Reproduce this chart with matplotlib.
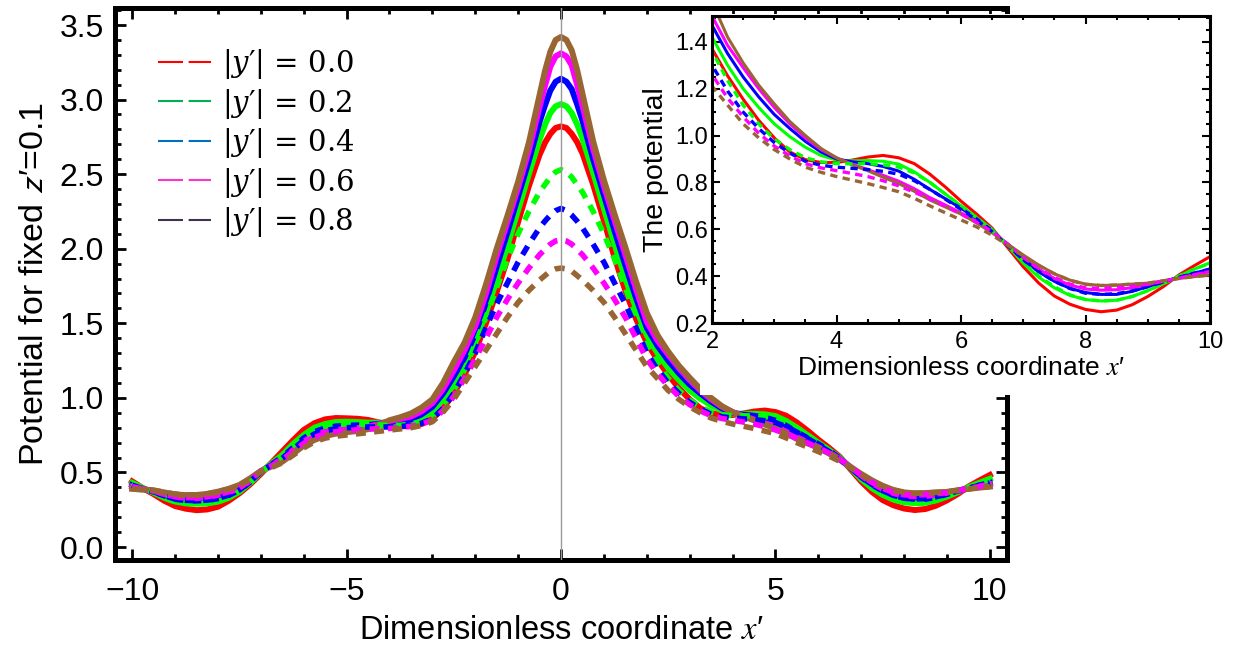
import matplotlib
matplotlib.use("Agg")
import matplotlib.pyplot as plt
from matplotlib.lines import Line2D
from matplotlib.patches import Rectangle
from matplotlib.ticker import MultipleLocator

plt.rcParams['font.family'] = ['Liberation Sans', 'DejaVu Sans']

x = [-10, -9.75, -9.5, -9.25, -9, -8.75, -8.5, -8.25, -8, -7.75, -7.5, -7.25, -7, -6.75, -6.5, -6.25,
     -6, -5.75, -5.5, -5.25, -5, -4.75, -4.5, -4.25, -4, -3.75, -3.5, -3.25, -3, -2.75, -2.5, -2.25,
     -2, -1.75, -1.5, -1.25, -1, -0.75, -0.5, -0.375, -0.25, -0.125, 0, 0.125, 0.25, 0.375, 0.5,
     0.75, 1, 1.25, 1.5, 1.75, 2,
     2.25, 2.5, 2.75, 3, 3.25, 3.5, 3.75, 4, 4.25, 4.5, 4.75, 5, 5.25, 5.5, 5.75, 6,
     6.25, 6.5, 6.75, 7, 7.25, 7.5, 7.75, 8, 8.25, 8.5, 8.75, 9, 9.25, 9.5, 9.75, 10]

# solid curves
red_solid = [0.44, 0.395, 0.355, 0.31, 0.275, 0.257, 0.247, 0.252, 0.27, 0.31, 0.36, 0.42, 0.49, 0.565, 0.64, 0.715,
             0.785, 0.83, 0.856, 0.865, 0.863, 0.86, 0.852, 0.835, 0.823, 0.81, 0.81, 0.825, 0.86, 0.93, 1.03, 1.155,
             1.31, 1.50, 1.71, 1.93, 2.18, 2.42, 2.63, 2.71, 2.77, 2.81, 2.82, 2.81, 2.77, 2.715, 2.64,
             2.43, 2.19, 1.94, 1.72, 1.53, 1.37,
             1.255, 1.155, 1.065, 0.99, 0.93, 0.897, 0.885, 0.885, 0.895, 0.908, 0.915, 0.905, 0.88, 0.835, 0.78, 0.72,
             0.665, 0.605, 0.522, 0.44, 0.37, 0.315, 0.28, 0.258, 0.248, 0.255, 0.278, 0.313, 0.355, 0.405, 0.445, 0.483]
green_solid = [0.43, 0.395, 0.365, 0.33, 0.305, 0.293, 0.29, 0.293, 0.304, 0.33, 0.371, 0.43, 0.50, 0.56, 0.617, 0.69,
               0.751, 0.80, 0.825, 0.838, 0.84, 0.838, 0.834, 0.833, 0.834, 0.832, 0.835, 0.86, 0.91, 0.99, 1.09, 1.22,
               1.37, 1.57, 1.79, 2.02, 2.26, 2.50, 2.73, 2.83, 2.91, 2.955, 2.97, 2.955, 2.91, 2.835, 2.74,
               2.51, 2.27, 2.03, 1.80, 1.60, 1.42,
               1.30, 1.20, 1.12, 1.05, 0.995, 0.95, 0.915, 0.895, 0.892, 0.893, 0.89, 0.878, 0.845, 0.80, 0.75, 0.70,
               0.65, 0.60, 0.53, 0.455, 0.395, 0.35, 0.318, 0.30, 0.294, 0.297, 0.313, 0.338, 0.368, 0.40, 0.43, 0.457]
blue_solid = [0.415, 0.39, 0.37, 0.345, 0.322, 0.313, 0.311, 0.314, 0.326, 0.348, 0.382, 0.437, 0.505, 0.553, 0.601, 0.665,
              0.729, 0.772, 0.796, 0.809, 0.814, 0.816, 0.818, 0.826, 0.84, 0.845, 0.855, 0.89, 0.94, 1.03, 1.145, 1.27,
              1.43, 1.64, 1.88, 2.11, 2.35, 2.59, 2.85, 2.96, 3.06, 3.12, 3.14, 3.12, 3.07, 2.97, 2.86,
              2.60, 2.36, 2.12, 1.89, 1.67, 1.47,
              1.35, 1.25, 1.165, 1.09, 1.03, 0.975, 0.93, 0.90, 0.888, 0.88, 0.868, 0.848, 0.813, 0.77, 0.73, 0.69,
              0.645, 0.595, 0.532, 0.47, 0.418, 0.378, 0.348, 0.33, 0.322, 0.322, 0.335, 0.355, 0.375, 0.395, 0.413, 0.43]
magenta_solid = [0.405, 0.39, 0.375, 0.355, 0.337, 0.33, 0.327, 0.335, 0.349, 0.368, 0.393, 0.445, 0.508, 0.548, 0.588, 0.648,
                 0.707, 0.748, 0.774, 0.786, 0.791, 0.798, 0.807, 0.823, 0.845, 0.858, 0.875, 0.91, 0.965, 1.06, 1.185, 1.32,
                 1.48, 1.70, 1.95, 2.18, 2.41, 2.66, 2.95, 3.09, 3.22, 3.29, 3.31, 3.29, 3.23, 3.10, 2.96,
                 2.67, 2.42, 2.19, 1.96, 1.73, 1.51,
                 1.385, 1.29, 1.20, 1.12, 1.05, 0.99, 0.94, 0.905, 0.878, 0.855, 0.83, 0.805, 0.773, 0.735, 0.703, 0.67,
                 0.633, 0.59, 0.537, 0.48, 0.43, 0.39, 0.362, 0.345, 0.34, 0.342, 0.351, 0.364, 0.378, 0.392, 0.406, 0.42]
brown_solid = [0.39, 0.385, 0.38, 0.366, 0.353, 0.348, 0.349, 0.356, 0.371, 0.39, 0.416, 0.46, 0.51, 0.54, 0.572, 0.625,
               0.68, 0.718, 0.745, 0.76, 0.77, 0.778, 0.79, 0.815, 0.85, 0.87, 0.895, 0.935, 0.99, 1.10, 1.24, 1.37,
               1.54, 1.76, 2.00, 2.22, 2.45, 2.71, 3.03, 3.19, 3.32, 3.40, 3.42, 3.40, 3.33, 3.20, 3.04,
               2.72, 2.46, 2.23, 2.01, 1.78, 1.57,
               1.42, 1.31, 1.215, 1.135, 1.06, 1.0, 0.945, 0.905, 0.875, 0.85, 0.822, 0.795, 0.762, 0.725, 0.695, 0.665,
               0.627, 0.585, 0.537, 0.49, 0.447, 0.41, 0.383, 0.366, 0.36, 0.362, 0.366, 0.37, 0.38, 0.39, 0.398, 0.405]

# dashed curves
green_dashed = [0.43, 0.395, 0.365, 0.332, 0.305, 0.293, 0.29, 0.293, 0.304, 0.33, 0.371, 0.43, 0.50, 0.555, 0.61, 0.68,
                0.74, 0.785, 0.81, 0.822, 0.825, 0.824, 0.822, 0.818, 0.815, 0.816, 0.825, 0.843, 0.874, 0.95, 1.05, 1.19,
                1.36, 1.54, 1.74, 1.93, 2.10, 2.25, 2.38, 2.43, 2.48, 2.515, 2.53, 2.515, 2.48, 2.43, 2.38,
                2.25, 2.10, 1.93, 1.74, 1.54, 1.36,
                1.235, 1.13, 1.05, 0.985, 0.94, 0.905, 0.888, 0.88, 0.879, 0.88, 0.875, 0.865, 0.84, 0.80, 0.75, 0.70,
                0.65, 0.595, 0.53, 0.46, 0.40, 0.355, 0.32, 0.30, 0.294, 0.297, 0.313, 0.338, 0.368, 0.40, 0.43, 0.455]
blue_dashed = [0.415, 0.39, 0.37, 0.345, 0.322, 0.313, 0.311, 0.314, 0.326, 0.348, 0.382, 0.437, 0.505, 0.55, 0.595, 0.655,
               0.715, 0.758, 0.78, 0.793, 0.80, 0.803, 0.805, 0.805, 0.805, 0.808, 0.815, 0.83, 0.86, 0.93, 1.03, 1.16,
               1.30, 1.47, 1.63, 1.77, 1.91, 2.03, 2.14, 2.185, 2.225, 2.255, 2.27, 2.255, 2.225, 2.185, 2.14,
               2.03, 1.91, 1.77, 1.63, 1.47, 1.30,
               1.19, 1.10, 1.03, 0.97, 0.925, 0.89, 0.873, 0.865, 0.86, 0.855, 0.847, 0.835, 0.807, 0.77, 0.728, 0.685,
               0.64, 0.59, 0.53, 0.47, 0.42, 0.378, 0.347, 0.327, 0.322, 0.325, 0.337, 0.355, 0.375, 0.395, 0.413, 0.43]
magenta_dashed = [0.405, 0.39, 0.375, 0.355, 0.337, 0.332, 0.33, 0.337, 0.35, 0.37, 0.395, 0.447, 0.508, 0.545, 0.585, 0.64,
                  0.695, 0.735, 0.76, 0.773, 0.78, 0.786, 0.79, 0.793, 0.795, 0.80, 0.81, 0.825, 0.85, 0.915, 1.01, 1.13,
                  1.26, 1.40, 1.54, 1.66, 1.77, 1.87, 1.96, 1.995, 2.03, 2.052, 2.06, 2.052, 2.03, 1.995, 1.96,
                  1.87, 1.77, 1.66, 1.54, 1.40, 1.26,
                  1.16, 1.08, 1.01, 0.955, 0.913, 0.88, 0.862, 0.85, 0.838, 0.825, 0.807, 0.785, 0.758, 0.73, 0.698, 0.665,
                  0.63, 0.59, 0.537, 0.48, 0.433, 0.395, 0.366, 0.35, 0.348, 0.352, 0.357, 0.365, 0.378, 0.392, 0.406, 0.42]
brown_dashed = [0.39, 0.385, 0.38, 0.367, 0.355, 0.35, 0.35, 0.357, 0.37, 0.388, 0.41, 0.455, 0.505, 0.533, 0.565, 0.615,
                0.665, 0.705, 0.73, 0.743, 0.751, 0.759, 0.767, 0.776, 0.784, 0.792, 0.80, 0.815, 0.84, 0.905, 0.99, 1.10,
                1.21, 1.32, 1.43, 1.54, 1.64, 1.72, 1.79, 1.82, 1.85, 1.865, 1.87, 1.865, 1.85, 1.82, 1.79,
                1.72, 1.64, 1.54, 1.43, 1.32, 1.21,
                1.13, 1.05, 0.99, 0.94, 0.90, 0.865, 0.843, 0.825, 0.81, 0.795, 0.778, 0.76, 0.732, 0.70, 0.67, 0.64,
                0.61, 0.575, 0.532, 0.485, 0.445, 0.41, 0.382, 0.365, 0.36, 0.362, 0.366, 0.37, 0.38, 0.39, 0.398, 0.405]

solid = [red_solid, green_solid, blue_solid, magenta_solid, brown_solid]
dashed = [green_dashed, blue_dashed, magenta_dashed, brown_dashed]
solid_colors = ['#ff0000', '#00ff00', '#0000ff', '#ff00ff', '#996633']
dashed_colors = ['#00ff00', '#0000ff', '#ff00ff', '#996633']

legend_labels = ['0.0', '0.2', '0.4', '0.6', '0.8']
legend_colors = ['#ff0000', '#00b050', '#0070c0', '#ff33cc', '#403152']

W, H = 1249, 647
fig = plt.figure(figsize=(W / 100, H / 100), dpi=100)

# main axes
ax = fig.add_axes([115 / W, 1 - 560 / H, (1007 - 115) / W, (560 - 8) / H])
for ys, c in zip(solid, solid_colors):
    ax.plot(x, ys, color=c, lw=4.3, solid_joinstyle='round')
for ys, c in zip(dashed, dashed_colors):
    ax.plot(x, ys, color=c, lw=4.0, linestyle=(0, (1.8, 1.5)), dash_capstyle='butt')
ax.axvline(0, color='#999999', lw=1.0, zorder=5)

ax.set_xlim(-10.4, 10.4)
ax.set_ylim(-0.087, 3.614)
ax.xaxis.set_major_locator(MultipleLocator(5))
ax.xaxis.set_minor_locator(MultipleLocator(1))
ax.yaxis.set_major_locator(MultipleLocator(0.5))
ax.yaxis.set_minor_locator(MultipleLocator(0.1))
ax.tick_params(which='both', direction='in', top=True, right=True, width=2)
ax.tick_params(which='major', length=8, labelsize=23)
ax.tick_params(which='minor', length=4)
ax.tick_params(axis='x', which='major', pad=12)
ax.tick_params(axis='y', which='major', pad=8)
for s in ax.spines.values():
    s.set_linewidth(3.6)
ax.set_xlabel("Dimensionless coordinate $x$\u2032", fontsize=23.5, labelpad=6,
              math_fontfamily='stix')
ax.set_ylabel("Potential for fixed $z$\u200a\u2032=0.1", fontsize=24.5, labelpad=7,
              math_fontfamily='stixsans')

handles = [Line2D([], [], color=c, lw=1.5, linestyle=(0, (12, 2.7))) for c in legend_colors]
labels = ["|$y$\u2032| = %s" % s for s in legend_labels]
ax.legend(handles, labels, loc='upper left', bbox_to_anchor=(158 / W, 1 - 47 / H),
          bbox_transform=fig.transFigure, frameon=False, borderpad=0, borderaxespad=0,
          handlelength=1.8, handletextpad=0.38, labelspacing=0.19,
          prop={'family': 'DejaVu Serif', 'size': 21, 'math_fontfamily': 'dejavuserif'})

# white panel behind the inset
fig.add_artist(Rectangle((700 / W, 1 - 395 / H), (W - 700) / W, (395 - 14) / H,
                         transform=fig.transFigure, facecolor='white', edgecolor='none', zorder=1))

# inset
ins = fig.add_axes([712 / W, 1 - 323 / H, (1210 - 712) / W, (323 - 16) / H])
ins.set_zorder(2)
for ys, c in zip(solid, solid_colors):
    ins.plot(x, ys, color=c, lw=2.2)
for ys, c in zip(dashed, dashed_colors):
    ins.plot(x, ys, color=c, lw=2.4, linestyle=(0, (2.2, 1.6)), dash_capstyle='butt')
ins.set_xlim(2, 10)
ins.set_ylim(0.2, 1.51)
ins.xaxis.set_major_locator(MultipleLocator(2))
ins.xaxis.set_minor_locator(MultipleLocator(0.5))
ins.yaxis.set_major_locator(MultipleLocator(0.2))
ins.yaxis.set_minor_locator(MultipleLocator(0.05))
ins.tick_params(which='both', direction='in', top=True, right=True, width=1.5)
ins.tick_params(which='major', length=6, labelsize=17)
ins.tick_params(which='minor', length=3)
ins.tick_params(axis='x', which='major', pad=6)
ins.tick_params(axis='y', which='major', pad=3)
for s in ins.spines.values():
    s.set_linewidth(2.2)
ins.set_xlabel("Dimensionless coordinate $x$\u2032", fontsize=19, labelpad=2,
               math_fontfamily='stix')
ins.set_ylabel("The potential", fontsize=20.5, labelpad=4)

fig.savefig("out.png", dpi=100)
